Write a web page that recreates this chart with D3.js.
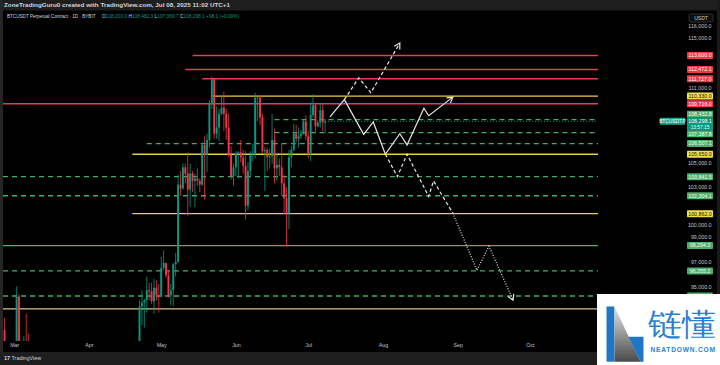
<!DOCTYPE html>
<html><head><meta charset="utf-8">
<script src="https://cdn.jsdelivr.net/npm/d3@7/dist/d3.min.js"></script>
<style>
html,body{margin:0;padding:0;background:#000;}
svg{display:block;}
text{font-family:"Liberation Sans",Arial,sans-serif;}
</style></head><body>
<svg id="chart" width="720" height="365"></svg>
<script>
// ---------------- DATA ----------------
const candleDates = [
 "2025-02-25","2025-02-26","2025-02-27","2025-02-28","2025-03-01","2025-03-02","2025-03-03","2025-03-04","2025-03-05","2025-03-06","2025-03-07","2025-03-08",
 "2025-04-20","2025-04-21","2025-04-22","2025-04-23","2025-04-24","2025-04-25","2025-04-26","2025-04-27","2025-04-28","2025-04-29","2025-04-30",
 "2025-05-01","2025-05-02","2025-05-03","2025-05-04","2025-05-05","2025-05-06","2025-05-07","2025-05-08","2025-05-09","2025-05-10",
 "2025-05-11","2025-05-12","2025-05-13","2025-05-14","2025-05-15","2025-05-16","2025-05-17","2025-05-18","2025-05-19","2025-05-20",
 "2025-05-21","2025-05-22","2025-05-23","2025-05-24","2025-05-25","2025-05-26","2025-05-27","2025-05-28","2025-05-29","2025-05-30","2025-05-31",
 "2025-06-01","2025-06-02","2025-06-03","2025-06-04","2025-06-05","2025-06-06","2025-06-07","2025-06-08","2025-06-09","2025-06-10",
 "2025-06-11","2025-06-12","2025-06-13","2025-06-14","2025-06-15","2025-06-16","2025-06-17","2025-06-18","2025-06-19","2025-06-20",
 "2025-06-21","2025-06-22","2025-06-23","2025-06-24","2025-06-25","2025-06-26","2025-06-27","2025-06-28","2025-06-29","2025-06-30",
 "2025-07-01","2025-07-02","2025-07-03","2025-07-04","2025-07-05","2025-07-06","2025-07-07","2025-07-08"
];
const openPrices = [
 91500,88700,84700,84700,84400,86000,94200,86100,87200,90600,89900,86700,
 85100,85200,87500,93400,93700,93900,94700,94600,93800,94900,94300,
 94200,96500,96900,95900,94300,94700,96800,97000,103200,102900,
 104600,104100,102800,104100,103500,103700,103500,103200,106400,105600,
 106800,109700,111700,107300,107800,108900,109400,108900,107800,105600,103900,
 104600,105700,105800,105400,104700,101500,104300,105600,105700,110200,
 110200,108600,105900,106000,105400,105500,106800,104500,104800,104600,
 103300,102100,100900,105400,106000,107300,106900,107100,107300,108300,
 107100,105700,108800,109600,107900,108200,109200,108200.0
];
const highPrices = [
 92500,89300,87000,85100,86500,95000,94400,88900,91000,92800,91200,86800,
 85300,88500,93900,94700,94000,95800,95300,95300,95600,95500,95200,
 97400,97900,96900,96300,95200,96900,97700,104000,104300,104900,
 104900,105800,104900,104300,104100,104500,103700,106600,107100,107300,
 110000,111900,111800,109500,109300,110400,110700,109300,108900,106300,104900,
 105900,105900,106800,106000,105900,105000,105900,106500,110600,110400,
 110400,108900,106200,106200,106100,108900,107700,105600,105300,106500,
 104000,103000,106000,106300,108100,108000,107800,107600,108500,108800,
 107500,109800,110500,109800,108400,109700,109700,108482.3
];
const lowPrices = [
 86100,82300,82800,78200,83900,85000,85100,81400,86300,87800,84700,85200,
 83900,85100,87000,91900,91700,92900,93900,93600,92800,93900,92900,
 94100,96300,95700,94100,93500,93400,95800,96900,102300,102800,
 103300,100700,101400,102600,101400,103100,102600,103100,102000,104200,
 106200,109300,106900,106900,106700,108800,107500,106800,105400,103600,103100,
 103900,103700,105000,104100,100400,101100,103900,105100,105300,108300,
 108000,105700,102700,104300,104500,104900,103300,103500,103900,102300,
 100800,98200,99600,104600,105900,106600,106200,106900,107200,106800,
 105300,105100,108600,107300,107800,107800,107500,107369.7
];
const closePrices = [
 88700,84700,84700,84400,86000,94200,86100,87200,90600,89900,86700,86100,
 85200,87500,93400,93700,93900,94700,94600,93800,94900,94300,94200,
 96500,96900,95900,94300,94700,96800,97000,103200,102900,104600,
 104100,102800,104100,103500,103700,103500,103200,106400,105600,106800,
 109700,111700,107300,107800,108900,109400,108900,107800,105600,103900,104600,
 105700,105800,105400,104700,101500,104300,105600,105700,110200,110200,
 108600,105900,106000,105400,105500,106800,104500,104800,104600,103300,
 102100,100900,105400,106000,107300,106900,107100,107300,108300,107100,
 105700,108800,109600,107900,108200,109200,108200,108298.1
];

// horizontal levels drawn on the chart
const levelPrices = [113600,112472.1,111727,110330,109716,108432.8,107387.8,106507.1,105650,103841.5,102304.1,100862,98294.3,96255.2,94235,93200];
const levelKinds  = ["red","red","red","yellow","red","greenDash","greenDash","greenDash","yellow","greenDash","greenDash","yellow","green","greenDash","greenDash","beige"];
const levelStarts = ["2025-05-14","2025-05-11","2025-05-18","2025-05-22","2025-02-20","2025-06-17","2025-06-17","2025-04-25","2025-04-19","2025-02-20","2025-02-20","2025-04-19","2025-02-20","2025-02-20","2025-02-20","2025-02-20"];

// projected paths
const solidDates  = ["2025-07-10","2025-07-16","2025-07-24","2025-07-28","2025-08-02","2025-08-08","2025-08-11","2025-08-18","2025-08-20","2025-08-30"];
const solidPrices = [108650,110050,107250,108250,105650,107300,106400,109350,108750,110250];
const upDashDates  = ["2025-07-16","2025-07-22","2025-07-27","2025-08-08"];
const upDashPrices = [110050,111800,110600,114600];
const downDashDates  = ["2025-08-02","2025-08-07","2025-08-11","2025-08-20","2025-08-22","2025-08-30"];
const downDashPrices = [105650,103850,105650,102250,103500,100900];
const dotDates  = ["2025-08-30","2025-09-09","2025-09-14","2025-09-24"];
const dotPrices = [100900,96300,98250,93900];

const priceTicks = d3.range(95000,116001,1000);
const monthTicks = ["2025-03-01","2025-04-01","2025-05-01","2025-06-01","2025-07-01","2025-08-01","2025-09-01","2025-10-01","2025-11-01"];

const headerText = "ZoneTradingGuru0 created with TradingView.com, Jul 08, 2025 11:02 UTC+1";
const symbolText = "BTCUSDT Perpetual Contract · 1D · BYBIT";
const ohlcLabels = ["O","H","L","C"];
const ohlcValues = ["108,200.0","108,482.3","107,369.7","108,298.1"];
const changeText = "+98.1 (+0.09%)";
const countdown = "13:57:15";

// ---------------- LAYOUT ----------------
const parse = d3.utcParse("%Y-%m-%d");
const plot = {left:3, right:598, top:11, bottom:341};
const logoTop = 294;
const x = d3.scaleUtc().domain([parse("2025-03-01"), parse("2025-11-01")]).range([14.2, 604.65]);
const y = d3.scaleLinear().domain([105000,116000]).range([162.3,25.7]);

const UP="#089981", DOWN="#f23645";
const styles = {
  red:{stroke:"#f0384f", dash:null, box:"#f23645", txt:"#fff"},
  yellow:{stroke:"#e6cc4e", dash:null, box:"#f1e04c", txt:"#111"},
  greenDash:{stroke:"#3fae68", dash:"5,4", box:"#4caf6e", txt:"#f0fff4"},
  green:{stroke:"#4cb463", dash:null, box:"#4caf6e", txt:"#f0fff4"},
  beige:{stroke:"#d9c58a", dash:null, box:"#d8c25a", txt:"#111"}
};

const svg = d3.select("#chart");
svg.append("rect").attr("width",720).attr("height",365).attr("fill","#000");
svg.append("rect").attr("x",0).attr("y",0).attr("width",720).attr("height",10.5).attr("fill","#1e1e1e");
svg.append("rect").attr("x",0).attr("y",0).attr("width",3).attr("height",365).attr("fill","#262626");
svg.append("rect").attr("x",717).attr("y",0).attr("width",3).attr("height",365).attr("fill","#1a1a1a");
svg.append("rect").attr("x",0).attr("y",352).attr("width",720).attr("height",13).attr("fill","#1e1e1e");

const defs = svg.append("defs");
defs.append("clipPath").attr("id","plotclip").append("rect")
  .attr("x",plot.left).attr("y",plot.top).attr("width",plot.right-plot.left).attr("height",plot.bottom-plot.top);
defs.append("marker").attr("id","arrow").attr("markerUnits","userSpaceOnUse")
  .attr("viewBox","-7 -5 9 10").attr("refX",0).attr("refY",0)
  .attr("markerWidth",9).attr("markerHeight",10).attr("orient","auto")
  .append("path").attr("d","M-5.5,-3.2 L0,0 L-5.5,3.2").attr("fill","none").attr("stroke","#e8e8e8").attr("stroke-width",1.2);

const g = svg.append("g").attr("clip-path","url(#plotclip)");

// levels
levelPrices.forEach((p,i)=>{
  const st = styles[levelKinds[i]];
  g.append("line")
    .attr("x1", Math.max(plot.left, x(parse(levelStarts[i])))).attr("x2", plot.right)
    .attr("y1", y(p)).attr("y2", y(p))
    .attr("stroke", st.stroke).attr("stroke-width",1.35)
    .attr("stroke-dasharray", st.dash);
});

// current price line
const lastClose = closePrices[closePrices.length-1];
g.append("line").attr("x1", x(parse(candleDates[candleDates.length-1]))).attr("x2", plot.right)
  .attr("y1", y(lastClose)).attr("y2", y(lastClose))
  .attr("stroke", UP).attr("stroke-width",1).attr("stroke-dasharray","1,2");

// candles
const candles = candleDates.map((d,i)=>({d:parse(d),o:openPrices[i],h:highPrices[i],l:lowPrices[i],c:closePrices[i]}));
const bw = 1.9;
const cg = g.selectAll("g.c").data(candles).join("g");
cg.append("line")
  .attr("x1",d=>x(d.d)).attr("x2",d=>x(d.d))
  .attr("y1",d=>y(d.h)).attr("y2",d=>y(d.l))
  .attr("stroke",d=>d.c>=d.o?UP:DOWN).attr("stroke-width",0.8);
cg.append("rect")
  .attr("x",d=>x(d.d)-bw/2).attr("width",bw)
  .attr("y",d=>y(Math.max(d.o,d.c)))
  .attr("height",d=>Math.max(0.8, Math.abs(y(d.o)-y(d.c))))
  .attr("fill",d=>d.c>=d.o?UP:DOWN);

// projected paths
const line = d3.line().x(d=>x(d[0])).y(d=>y(d[1]));
function proj(dates, prices, dash, arrow){
  const pts = dates.map((d,i)=>[parse(d),prices[i]]);
  g.append("path").attr("d",line(pts)).attr("fill","none")
    .attr("stroke","#e8e8e8").attr("stroke-width",1.2)
    .attr("stroke-dasharray",dash).attr("stroke-linejoin","miter")
    .attr("marker-end",arrow?"url(#arrow)":null);
}
proj(upDashDates, upDashPrices, "3.5,2.5", true);
proj(downDashDates, downDashPrices, "3.5,2.5", false);
proj(dotDates, dotPrices, "1,1.6", true);
proj(solidDates, solidPrices, null, true);

// ---------------- LABEL POSITIONS (collision handling) ----------------
const ph = 7;
const priceY = y(lastClose);
const blockTop = priceY-3.5, blockBot = priceY+9;
const labs = levelPrices.map((p,i)=>({p, kind:levelKinds[i], y:y(p)}));
let lim = blockTop;
labs.filter(l=>l.y<=priceY).sort((a,b)=>b.y-a.y).forEach(l=>{
  if(l.y+ph/2>lim) l.y=lim-ph/2; lim=l.y-ph/2;
});
lim = blockBot;
labs.filter(l=>l.y>priceY).sort((a,b)=>a.y-b.y).forEach(l=>{
  if(l.y-ph/2<lim) l.y=lim+ph/2; lim=l.y+ph/2;
});
const visibleLabs = labs.filter(l=>l.y-ph/2 < logoTop);

// ---------------- PRICE AXIS ----------------
const shownTicks = priceTicks.filter(t=>{
  const ty = y(t);
  if (ty+3 > logoTop) return false;
  if (ty > blockTop-3 && ty < blockBot+3) return false;
  return !visibleLabs.some(l=>Math.abs(l.y-ty) < 6.6);
});
const yAxis = d3.axisLeft(y).tickValues(shownTicks).tickFormat(d3.format(",.1f")).tickSize(0).tickPadding(0);
const ya = svg.append("g").attr("transform","translate(711.5,0)").call(yAxis);
ya.select(".domain").remove();
ya.selectAll("text").attr("fill","#c3c6ce").attr("font-size",5.3).attr("font-family","Liberation Sans, Arial, sans-serif");

// USDT box
svg.append("rect").attr("x",689).attr("y",14).attr("width",24).attr("height",8).attr("rx",1.5)
  .attr("fill","#0d0d0d").attr("stroke","#4a4a4a").attr("stroke-width",0.6);
svg.append("text").attr("x",701).attr("y",18.2).attr("dy","0.35em").attr("text-anchor","middle")
  .attr("font-size",5).attr("fill","#d1d4dc").text("USDT");

const fmt = d3.format(",.1f");
visibleLabs.forEach(l=>{
  const st = styles[l.kind];
  svg.append("rect").attr("x",687).attr("y",l.y-ph/2).attr("width",26).attr("height",ph).attr("rx",0.8).attr("fill",st.box);
  svg.append("text").attr("x",700).attr("y",l.y).attr("dy","0.35em").attr("text-anchor","middle")
    .attr("font-size",5.3).attr("fill",st.txt).text(fmt(l.p));
});
// current price block
svg.append("rect").attr("x",687).attr("y",blockTop).attr("width",26).attr("height",blockBot-blockTop).attr("rx",0.8).attr("fill",UP);
svg.append("text").attr("x",700).attr("y",priceY).attr("dy","0.35em").attr("text-anchor","middle")
  .attr("font-size",5.3).attr("fill","#fff").text(fmt(lastClose));
svg.append("text").attr("x",700).attr("y",priceY+5.6).attr("dy","0.35em").attr("text-anchor","middle")
  .attr("font-size",4.8).attr("fill","#e6fff8").text(countdown);
svg.append("rect").attr("x",660).attr("y",priceY-3.5).attr("width",25).attr("height",7).attr("rx",0.8).attr("fill","#1fa38e");
svg.append("text").attr("x",672.5).attr("y",priceY).attr("dy","0.35em").attr("text-anchor","middle")
  .attr("font-size",4.8).attr("fill","#fff").text("BTCUSDT.P");

// ---------------- TIME AXIS ----------------
const xAxis = d3.axisBottom(x).tickValues(monthTicks.map(parse).filter(d=>x(d)<590)).tickFormat(d3.utcFormat("%b")).tickSize(0).tickPadding(0);
const xa = svg.append("g").attr("transform","translate(0,343)").call(xAxis);
xa.select(".domain").remove();
xa.selectAll("text").attr("fill","#c3c6ce").attr("font-size",5.3).attr("font-family","Liberation Sans, Arial, sans-serif");

// ---------------- HEADER ----------------
svg.append("text").attr("x",4).attr("y",5.3).attr("dy","0.35em").attr("font-size",5.8).attr("font-weight","bold")
  .attr("fill","#d1d4dc").attr("textLength",226).attr("lengthAdjust","spacingAndGlyphs").text(headerText);
svg.append("text").attr("x",7).attr("y",16).attr("dy","0.35em").attr("font-size",4.6)
  .attr("fill","#d1d4dc").text(symbolText);
const ot = svg.append("text").attr("x",102).attr("y",16).attr("dy","0.35em").attr("font-size",4.8);
ohlcLabels.forEach((lab,i)=>{
  ot.append("tspan").attr("fill","#d1d4dc").text((i?" ":"")+lab);
  ot.append("tspan").attr("fill",UP).text(ohlcValues[i]);
});
ot.append("tspan").attr("fill",UP).text(" "+changeText);

// footer
svg.append("text").attr("x",4).attr("y",358).attr("dy","0.35em").attr("font-size",5.6).attr("font-weight","bold")
  .attr("fill","#d1d4dc").text("17");
svg.append("text").attr("x",11.5).attr("y",358).attr("dy","0.35em").attr("font-size",5.4)
  .attr("fill","#d1d4dc").text("TradingView");

// ---------------- WATERMARK LOGO ----------------
const logo = svg.append("g");
logo.append("rect").attr("x",597).attr("y",logoTop).attr("width",123).attr("height",71).attr("fill","#fff");
const grad = defs.append("linearGradient").attr("id","lg").attr("x1",0).attr("y1",0).attr("x2",0).attr("y2",1);
grad.append("stop").attr("offset","0%").attr("stop-color","#e4e4e4");
grad.append("stop").attr("offset","100%").attr("stop-color","#4a4a4a");
logo.append("path").attr("d","M606.5,306.5 L614.5,306.5 L614.5,361.7 L606.5,361.7 Z").attr("fill","#1f76c6");
logo.append("path").attr("d","M614.5,306.5 L640.5,361.7 L614.5,361.7 Z").attr("fill","url(#lg)");
logo.append("path").attr("d","M628.4,336.7 L643.5,336.7 L643.5,361.7 L640.5,361.7 Z").attr("fill","#1f76c6");
logo.append("text").attr("x",647.5).attr("y",335).attr("font-family","'Noto Sans CJK SC',sans-serif")
  .attr("font-size",31).attr("fill","#2a7fd0").attr("textLength",68).attr("lengthAdjust","spacingAndGlyphs").text("链懂");
logo.append("text").attr("x",650.5).attr("y",351.5).attr("font-size",6.6).attr("font-weight","bold")
  .attr("fill","#2a7fd0").attr("textLength",64.5).attr("lengthAdjust","spacing").text("NEATDOWN.COM");
</script>
</body></html>
